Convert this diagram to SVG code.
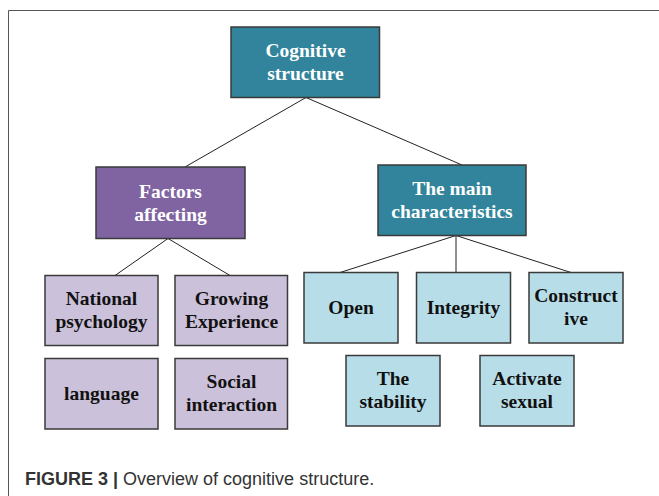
<svg xmlns="http://www.w3.org/2000/svg" width="659" height="496" viewBox="0 0 659 496">
<style>
.box{stroke:#3a3a3a;stroke-width:1.5}
.dark{fill:#31849B}
.purple{fill:#8064A2}
.lpurple{fill:#CCC1DA}
.lblue{fill:#B7DEE8}
.t{font-family:"Liberation Serif","Times New Roman",serif;font-weight:bold;font-size:19.5px;text-anchor:middle}
.w{fill:#ffffff}
.k{fill:#111111}
.conn line{stroke:#222;stroke-width:1}
</style>
<rect x="0" y="0" width="659" height="496" fill="#ffffff"/>
<path d="M8.5 500 V10.5 H665" fill="none" stroke="#555" stroke-width="1"/>
<g class="conn" id="connectors">
<line x1="306" y1="97.5" x2="185" y2="167"/>
<line x1="306" y1="97.5" x2="462" y2="165"/>
<line x1="168" y1="238.5" x2="115" y2="275.5"/>
<line x1="168" y1="238.5" x2="230" y2="275.5"/>
<line x1="456" y1="235.5" x2="340" y2="272.5"/>
<line x1="456" y1="235.5" x2="456" y2="272.5"/>
<line x1="456" y1="235.5" x2="571" y2="272.5"/>
</g>
<g id="cognitive">
<rect class="box dark" x="231" y="27" width="148.5" height="70.5"/>
<text class="t w" x="305.5" y="57">Cognitive</text>
<text class="t w" x="305.5" y="80">structure</text>
</g>
<g id="factors">
<rect class="box purple" x="96" y="167" width="149" height="71.5"/>
<text class="t w" x="170.5" y="197.5">Factors</text>
<text class="t w" x="170.5" y="221">affecting</text>
</g>
<g id="main">
<rect class="box dark" x="378" y="165" width="148" height="70.5"/>
<text class="t w" x="452" y="194.5">The main</text>
<text class="t w" x="452" y="218">characteristics</text>
</g>
<g id="national">
<rect class="box lpurple" x="45" y="275.5" width="113" height="70"/>
<text class="t k" x="101.5" y="304.5">National</text>
<text class="t k" x="101.5" y="328">psychology</text>
</g>
<g id="growing">
<rect class="box lpurple" x="175" y="275.5" width="112.5" height="70"/>
<text class="t k" x="231.5" y="304.5">Growing</text>
<text class="t k" x="231.5" y="328">Experience</text>
</g>
<g id="language">
<rect class="box lpurple" x="45" y="358.5" width="113" height="70.5"/>
<text class="t k" x="101.5" y="399.5">language</text>
</g>
<g id="social">
<rect class="box lpurple" x="175" y="358.5" width="112.5" height="70.5"/>
<text class="t k" x="231.5" y="388">Social</text>
<text class="t k" x="231.5" y="411">interaction</text>
</g>
<g id="open">
<rect class="box lblue" x="304" y="272.5" width="94" height="70.5"/>
<text class="t k" x="351" y="313.5">Open</text>
</g>
<g id="integrity">
<rect class="box lblue" x="416.5" y="272.5" width="94" height="70.5"/>
<text class="t k" x="463.5" y="313.5">Integrity</text>
</g>
<g id="constructive">
<rect class="box lblue" x="529" y="272.5" width="94" height="70.5"/>
<text class="t k" x="576" y="301.5">Construct</text>
<text class="t k" x="576" y="325">ive</text>
</g>
<g id="stability">
<rect class="box lblue" x="346" y="355.5" width="94" height="70.5"/>
<text class="t k" x="393" y="385">The</text>
<text class="t k" x="393" y="408">stability</text>
</g>
<g id="activate">
<rect class="box lblue" x="480" y="355.5" width="94" height="70.5"/>
<text class="t k" x="527" y="385">Activate</text>
<text class="t k" x="527" y="408">sexual</text>
</g>
<text x="25" y="485" font-family="Liberation Sans, Arial, sans-serif" font-size="18" fill="#333"><tspan font-weight="bold">FIGURE 3 | </tspan>Overview of cognitive structure.</text>
</svg>
